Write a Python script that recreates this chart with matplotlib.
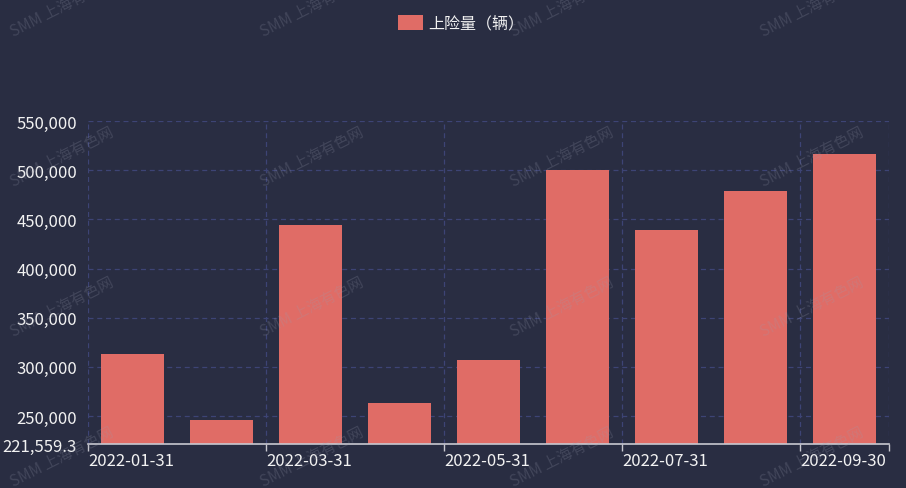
import numpy as np
import matplotlib.pyplot as plt
from matplotlib.patches import Patch
from matplotlib.ticker import FuncFormatter

plt.rcParams['font.family'] = ['Noto Sans CJK SC', 'DejaVu Sans']

# monthly insured vehicles
dates = ['2022-01-31', '2022-02-28', '2022-03-31', '2022-04-30', '2022-05-31',
         '2022-06-30', '2022-07-31', '2022-08-31', '2022-09-30']
values = [313000, 245900, 444300, 263000, 307000, 500500, 439000, 478800, 516500]
series_name = '上险量（辆）'
y_min = 221559.3
y_ticks = [250000, 300000, 350000, 400000, 450000, 500000, 550000]

bg = '#292d42'
bar_color = '#e06c66'
grid_color = '#3d4475'
text_color = '#f2f2f2'

fig = plt.figure(figsize=(9.06, 4.89), dpi=100, facecolor=bg)
ax = fig.add_axes([88/906, 1-445/489, (889-88)/906, (445-122)/489])
ax.set_facecolor(bg)

x = np.arange(len(dates))
ax.bar(x, values, width=0.7, color=bar_color, zorder=3)

ax.set_xlim(-0.5, len(dates) - 0.5)
ax.set_ylim(y_min, 550000)

# horizontal dashed grid
for yv in y_ticks:
    ax.axhline(yv, color=grid_color, ls=(0, (4, 3)), lw=0.9, zorder=1)
# vertical dashed grid at category boundaries
bounds = list(np.arange(-0.5, len(dates), 2)) + [len(dates) - 0.5]
for xv in bounds:
    ax.axvline(xv, color=grid_color, ls=(0, (4, 3)), lw=0.9, zorder=1)

ax.set_yticks([y_min] + y_ticks)
ax.yaxis.set_major_formatter(FuncFormatter(
    lambda v, p: f'{v:,.1f}' if abs(v - y_min) < 1 else f'{v:,.0f}'))
ax.tick_params(axis='y', length=0, pad=8, labelsize=12, labelcolor=text_color)

ax.set_xticks(bounds)
ax.set_xticklabels(dates[0::2] + [''], ha='left')
ax.tick_params(axis='x', length=5, width=1, color='#c8c8d0', pad=1,
               labelsize=12, labelcolor=text_color)

for s in ['top', 'right', 'left']:
    ax.spines[s].set_visible(False)
ax.spines['bottom'].set_color('#c8c8d0')
ax.spines['bottom'].set_linewidth(1.2)
ax.spines['bottom'].set_zorder(4)

fig.legend(handles=[Patch(facecolor=bar_color, label=series_name)],
           loc='upper center', bbox_to_anchor=(0.509, 0.997), frameon=False,
           fontsize=11.5, labelcolor=text_color, handlelength=1.6,
           handleheight=1.0, handletextpad=0.35)

# watermark
for cy in [7, 157, 307, 457]:
    for cx in [62, 312, 562, 812]:
        fig.text(cx/906, 1-cy/489, 'SMM 上海有色网', rotation=27,
                 ha='center', va='center', fontsize=11,
                 color='#9a9db0', alpha=0.22, zorder=10)

fig.savefig('out.png', dpi=100, facecolor=bg)
